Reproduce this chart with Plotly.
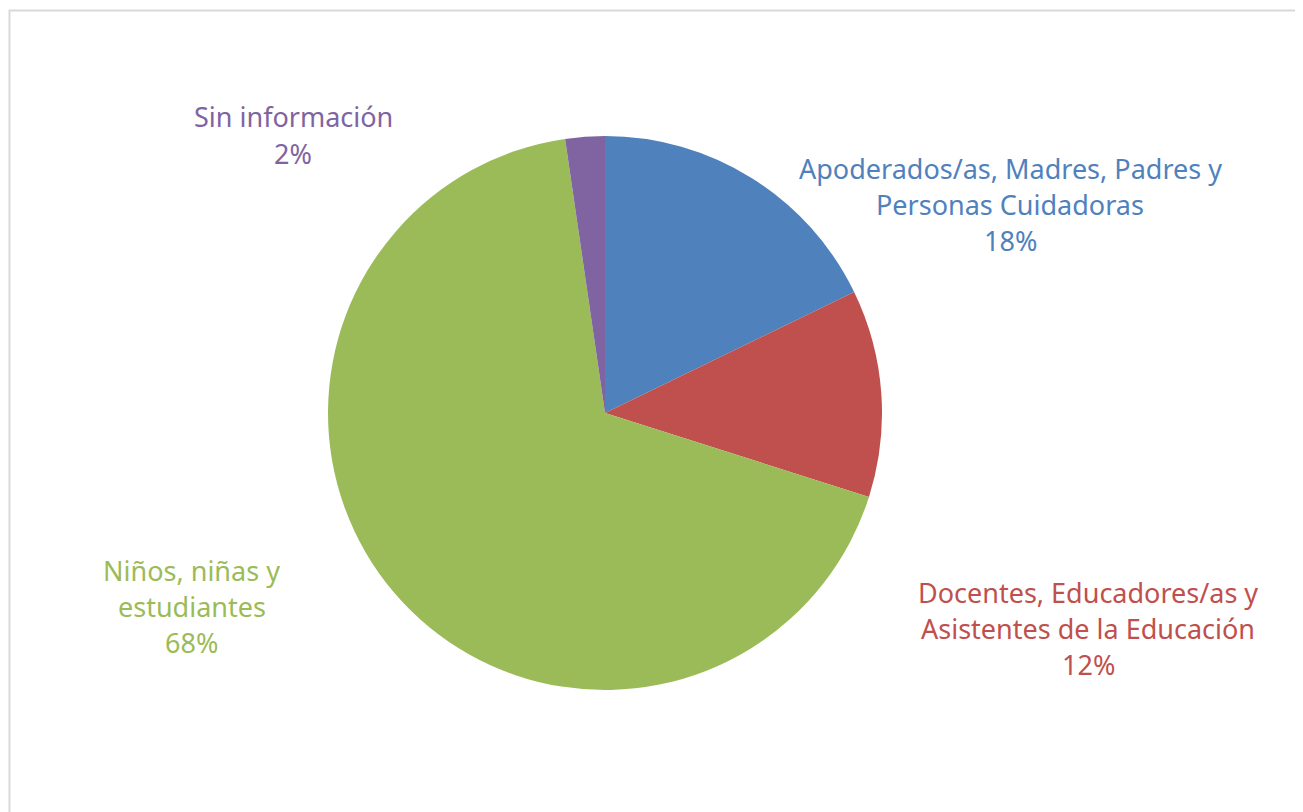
import plotly.graph_objects as go

# Données (pourcentages)
labels = [
    "Apoderados/as, Madres, Padres y<br>Personas Cuidadoras",
    "Docentes, Educadores/as y<br>Asistentes de la Educación",
    "Niños, niñas y<br>estudiantes",
    "Sin información",
]
values = [17.8, 12.1, 67.8, 2.3]
colors = ["#4F81BD", "#C0504D", "#9BBB59", "#8064A2"]

# La page HTML ajoute une marge de 8 px autour de la figure
OFF = 8
W, H = 1303 - OFF, 812 - OFF
FONT = "Noto Sans"
FONT_SIZE = 27
LINE_H = 36

# Centre horizontal et centre vertical (px écran) de chaque étiquette
label_pos = [(1010, 204), (1088, 628), (192, 606), (293, 135)]

CX, CY, R = 605 - OFF, 413 - OFF, 277


def px_x(x):
    return (x - OFF) / W


def px_y(y):
    return 1 - (y - OFF) / H


fig = go.Figure(
    go.Pie(
        labels=labels,
        values=values,
        sort=False,
        direction="clockwise",
        rotation=0,
        marker=dict(colors=colors, line=dict(width=0)),
        textinfo="none",
        hoverinfo="label+percent",
        domain=dict(x=[(CX - R) / W, (CX + R) / W], y=[1 - (CY + R) / H, 1 - (CY - R) / H]),
        showlegend=False,
    )
)

# Étiquettes placées à la main, une ligne par annotation
total = sum(values)
for lab, val, col, (cx, cy) in zip(labels, values, colors, label_pos):
    lines = lab.split("<br>") + [f"{round(val / total * 100)}%"]
    y0 = cy - (len(lines) - 1) * LINE_H / 2
    for i, line in enumerate(lines):
        fig.add_annotation(
            x=px_x(cx),
            y=px_y(y0 + i * LINE_H),
            xref="paper",
            yref="paper",
            text=line,
            showarrow=False,
            xanchor="center",
            yanchor="middle",
            font=dict(family=FONT, size=FONT_SIZE, color=col),
        )

# Cadre gris clair de la zone du graphique
fig.add_shape(
    type="rect",
    xref="paper",
    yref="paper",
    x0=px_x(9.5),
    x1=1.05,
    y0=-0.05,
    y1=px_y(10.5),
    line=dict(color="#D9D9D9", width=2),
)

fig.update_layout(
    width=W,
    height=H,
    margin=dict(l=0, r=0, t=0, b=0),
    paper_bgcolor="white",
    plot_bgcolor="white",
    font=dict(family=FONT),
)

fig.write_html("out.html")
